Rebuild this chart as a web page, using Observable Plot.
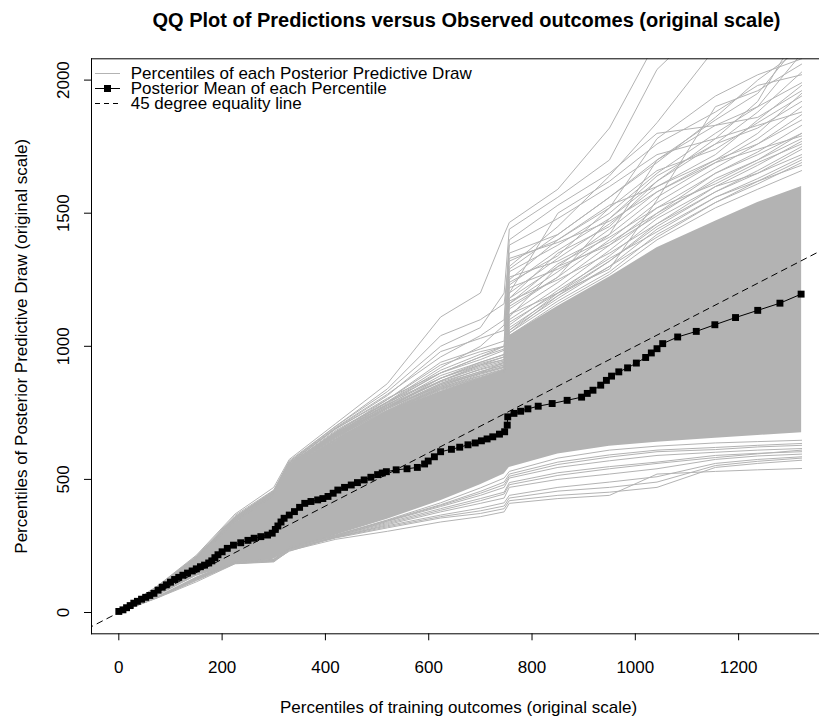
<!DOCTYPE html>
<html><head><meta charset="utf-8">
<script src="https://cdn.jsdelivr.net/npm/d3@7"></script>
<script src="https://cdn.jsdelivr.net/npm/@observablehq/plot@0.6"></script>
<style>
body{margin:0;background:#fff;font-family:"Liberation Sans",Arial,Helvetica,sans-serif;}
#wrap{position:relative;width:819px;height:721px;overflow:hidden;background:#fff;}
#legend{position:absolute;left:95px;top:65.5px;font-size:17px;line-height:15px;color:#000;}
.row{display:flex;align-items:center;height:15px;white-space:nowrap;}
.row svg{width:25px;height:15px;margin-right:10.7px;flex:none;overflow:visible}
</style></head><body>
<div id="wrap"><div id="legend"></div></div>
<script>
// ---- text ----
const titleText = "QQ Plot of Predictions versus Observed outcomes (original scale)";
const xLabelText = "Percentiles of training outcomes (original scale)";
const yLabelText = "Percentiles of Posterior Predictive Draw (original scale)";
const legendLabels = ["Percentiles of each Posterior Predictive Draw", "Posterior Mean of each Percentile", "45 degree equality line"];
const xTicks = [0, 200, 400, 600, 800, 1000, 1200];
const yTicks = [0, 500, 1000, 1500, 2000];

// ---- posterior mean of each percentile (black squares) ----
const meanX = [0, 8, 15, 22, 29, 36, 44, 52, 60, 68, 76, 84, 92, 100, 108, 116, 124, 133, 142, 150,
  158, 166, 174, 180, 186, 192, 200, 210, 222, 236, 250, 262, 275, 288, 297, 303, 308, 314, 320, 330,
  340, 350, 360, 372, 385, 395, 405, 415, 424, 437, 450, 462, 475, 488, 501, 510, 518, 537, 558, 578,
  592, 599, 611, 623, 644, 660, 676, 690, 702, 713, 724, 737, 747, 752, 753, 765, 778, 792, 812, 839,
  868, 896, 907, 918, 933, 944, 954, 968, 985, 1002, 1020, 1031, 1042, 1053, 1082, 1118, 1154, 1194, 1237, 1280, 1321];
const meanY = [4, 10, 18, 26, 35, 42, 50, 57, 64, 72, 84, 95, 104, 114, 124, 132, 140, 148, 156, 164,
  172, 178, 186, 194, 206, 217, 228, 241, 253, 262, 271, 279, 285, 291, 298, 312, 325, 340, 354, 366,
  379, 395, 410, 417, 423, 428, 436, 448, 460, 470, 479, 488, 498, 508, 518, 524, 529, 536, 540, 545,
  558, 569, 585, 604, 613, 621, 630, 637, 645, 652, 660, 670, 679, 704, 735, 748, 756, 765, 775, 785,
  797, 809, 823, 835, 854, 872, 888, 904, 919, 937, 958, 975, 991, 1010, 1035, 1056, 1081, 1108, 1135, 1162, 1196];

// ---- posterior predictive draws (grey), values at shared percentile knots ----
const knotsX = [0, 75, 150, 225, 300, 330, 420, 520, 623, 700, 746, 756, 850, 950, 1042, 1155, 1237, 1322];
// solid dense core of the draws
const coreLower = [0, 60, 135, 180, 200, 235, 290, 350, 420, 480, 520, 545, 595, 625, 640, 655, 665, 675];
const coreUpper = [4, 95, 205, 335, 440, 530, 640, 750, 830, 880, 910, 1040, 1150, 1260, 1370, 1470, 1540, 1600];
// individual draws visible above the core
const upperDraws = [
  [5, 100, 215, 370, 470, 575, 710, 860, 1110, 1200, 1420, 1465, 1590, 1820, 2150, 2300, 2400, 2500],
  [5, 99, 212, 365, 460, 570, 700, 830, 1000, 1070, 1200, 1440, 1560, 1700, 2040, 2250, 2350, 2450],
  [5, 98, 208, 360, 455, 560, 690, 800, 930, 980, 1000, 1300, 1450, 1640, 1840, 2120, 2250, 2350],
  [5, 98, 205, 352, 450, 555, 680, 790, 900, 950, 985, 1250, 1400, 1520, 1780, 1940, 2020, 2080],
  [5, 97, 206, 355, 448, 560, 675, 780, 890, 940, 970, 1350, 1420, 1560, 1700, 1850, 1950, 2150],
  [5, 97, 204, 350, 446, 552, 670, 770, 880, 935, 960, 1280, 1380, 1500, 1650, 1800, 1900, 2100],
  [5, 96, 203, 348, 445, 550, 668, 775, 870, 925, 950, 1230, 1360, 1480, 1620, 1760, 1880, 2030],
  [5, 96, 202, 346, 444, 548, 665, 765, 860, 915, 940, 1200, 1330, 1460, 1600, 1720, 1850, 1980],
  [5, 96, 201, 345, 443, 545, 662, 760, 855, 905, 930, 1180, 1300, 1440, 1580, 1700, 1800, 1950],
  [5, 96, 201, 344, 442, 543, 660, 758, 850, 900, 925, 1160, 1280, 1420, 1560, 1690, 1780, 1900],
  [5, 95, 200, 343, 441, 540, 656, 755, 845, 895, 920, 1140, 1260, 1400, 1540, 1670, 1760, 1870],
  [5, 95, 200, 342, 440, 538, 652, 753, 842, 888, 912, 1120, 1240, 1380, 1520, 1650, 1730, 1830],
  [5, 95, 200, 341, 440, 536, 650, 752, 838, 882, 906, 1100, 1220, 1360, 1500, 1620, 1700, 1800],
  [5, 95, 200, 340, 440, 535, 648, 751, 835, 878, 902, 1090, 1200, 1340, 1480, 1600, 1680, 1770],
  [5, 95, 200, 340, 440, 534, 646, 750, 830, 875, 900, 1070, 1190, 1320, 1460, 1580, 1650, 1740],
  [5, 95, 200, 340, 440, 533, 644, 750, 828, 872, 900, 1060, 1180, 1300, 1440, 1560, 1630, 1710],
  [5, 95, 200, 340, 440, 532, 642, 750, 825, 870, 900, 1050, 1170, 1280, 1420, 1540, 1610, 1690],
  [5, 95, 200, 340, 440, 531, 641, 750, 822, 870, 900, 1040, 1160, 1270, 1400, 1520, 1590, 1660],
  [5, 96, 203, 350, 450, 548, 660, 770, 850, 900, 940, 1120, 1200, 1290, 1550, 1900, 1960, 2060],
  [5, 97, 207, 356, 452, 556, 684, 792, 920, 1000, 1080, 1380, 1480, 1600, 1720, 1780, 1830, 1880],
  [5, 96, 205, 352, 448, 552, 672, 785, 900, 960, 990, 1200, 1500, 1620, 1760, 1880, 1980, 2020],
  [5, 97, 208, 358, 455, 565, 695, 820, 960, 1040, 1100, 1400, 1530, 1650, 1800, 1830, 1860, 1960],
  [5, 96, 204, 348, 446, 545, 665, 770, 870, 930, 960, 1150, 1260, 1480, 1640, 1760, 1820, 1920],
  [5, 96, 202, 346, 444, 550, 676, 800, 940, 990, 1020, 1320, 1400, 1530, 1600, 1700, 1760, 1850],
  [5, 97, 206, 354, 452, 560, 690, 805, 900, 960, 1000, 1180, 1350, 1450, 1620, 1780, 1920, 2200],
  [5, 96, 204, 350, 448, 552, 672, 790, 880, 930, 950, 1260, 1320, 1420, 1700, 1830, 1900, 1990],
  [5, 96, 203, 348, 446, 546, 668, 780, 870, 920, 945, 1220, 1290, 1390, 1500, 1650, 1720, 1800],
  [5, 95, 202, 345, 444, 544, 660, 770, 860, 905, 930, 1170, 1250, 1350, 1460, 1600, 1650, 1720],
  [5, 97, 208, 360, 458, 566, 700, 840, 1040, 1100, 1160, 1330, 1390, 1470, 1580, 1690, 1740, 1790],
  [5, 96, 205, 352, 450, 554, 678, 790, 910, 970, 1000, 1160, 1310, 1410, 1520, 1610, 1690, 1760],
  [5, 96, 203, 347, 445, 548, 664, 776, 866, 912, 935, 1110, 1300, 1380, 1490, 1630, 1700, 1780],
  [5, 95, 202, 344, 443, 542, 656, 765, 856, 898, 922, 1080, 1210, 1330, 1430, 1560, 1620, 1680],
  [5, 97, 207, 357, 454, 562, 692, 815, 980, 1030, 1060, 1290, 1420, 1560, 1690, 1860, 2000, 2120],
  [5, 96, 204, 350, 447, 550, 670, 782, 880, 940, 968, 1240, 1340, 1520, 1660, 1740, 1840, 1940],
  [5, 95, 201, 343, 441, 539, 652, 758, 846, 890, 915, 1060, 1200, 1320, 1450, 1580, 1660, 1750],
  [5, 95, 200, 342, 441, 537, 650, 756, 840, 884, 910, 1050, 1190, 1300, 1410, 1540, 1620, 1700]
];
// individual draws visible below the core
const lowerDraws = [
  [0, 55, 115, 183, 190, 232, 275, 305, 340, 360, 378, 410, 428, 440, 520, 530, 536, 541],
  [0, 56, 120, 184, 192, 236, 280, 318, 355, 372, 390, 420, 440, 452, 470, 545, 560, 572],
  [0, 57, 124, 185, 194, 230, 284, 326, 366, 392, 412, 440, 470, 490, 510, 560, 575, 585],
  [0, 58, 128, 186, 196, 240, 282, 330, 378, 410, 430, 470, 500, 520, 540, 575, 588, 595],
  [0, 58, 126, 187, 198, 244, 288, 338, 390, 428, 452, 488, 525, 548, 565, 590, 598, 604],
  [0, 59, 130, 188, 196, 238, 286, 342, 398, 440, 470, 505, 545, 570, 590, 602, 610, 616],
  [0, 59, 132, 189, 199, 246, 292, 346, 405, 455, 490, 520, 565, 592, 610, 620, 628, 635],
  [0, 60, 133, 190, 200, 242, 290, 348, 412, 468, 505, 530, 580, 610, 625, 637, 642, 647],
  [0, 58, 127, 186, 197, 238, 285, 334, 384, 420, 445, 480, 515, 540, 560, 582, 596, 610],
  [0, 59, 131, 189, 199, 244, 290, 344, 402, 448, 480, 512, 556, 584, 604, 612, 622, 628],
  [0, 57, 122, 185, 193, 234, 282, 322, 360, 382, 400, 430, 456, 470, 490, 552, 568, 580]
];
const equalityRange = [-80, 2080];

// ---- tables built from the arrays ----
const meanRows = meanX.map((x, i) => ({x, y: meanY[i]}));
const coreRows = knotsX.map((x, i) => ({x, lo: coreLower[i], hi: coreUpper[i]}));
const drawRows = [...upperDraws, ...lowerDraws].flatMap((ys, k) => knotsX.map((x, i) => ({draw: k, x, y: ys[i]})));

const grey = "#b3b3b3";
const fmt = d3.format("d");
const chart = Plot.plot({
  width: 819, height: 721,
  marginLeft: 91, marginRight: 0, marginTop: 58.3, marginBottom: 87.7,
  x: {domain: [-52.9, 1356.6]},
  y: {domain: [-80, 2080]},
  style: {fontFamily: "'Liberation Sans', Arial, Helvetica, sans-serif", fontSize: "17px", background: "white", color: "black", overflow: "visible"},
  marks: [
    Plot.areaY(coreRows, {x: "x", y1: "lo", y2: "hi", fill: grey, clip: true}),
    Plot.line(drawRows, {x: "x", y: "y", z: "draw", stroke: grey, strokeWidth: 1, clip: true}),
    Plot.line(equalityRange, {x: d => d, y: d => d, stroke: "#000", strokeWidth: 1, strokeDasharray: "6,5", clip: true}),
    Plot.line(meanRows, {x: "x", y: "y", stroke: "#000", strokeWidth: 1}),
    Plot.dot(meanRows, {x: "x", y: "y", symbol: "square", r: 3.9, fill: "#000", stroke: null}),
    Plot.frame({anchor: "top", stroke: "#000"}),
    Plot.frame({anchor: "left", stroke: "#000"}),
    Plot.frame({anchor: "bottom", stroke: "#000"}),
    Plot.axisX({anchor: "bottom", ticks: xTicks, tickFormat: fmt, tickSize: 7, tickPadding: 20, fontSize: 17, label: null, stroke: "#000"}),
    Plot.axisY({anchor: "left", ticks: yTicks, tickFormat: fmt, tickSize: 7, tickPadding: 16, tickRotate: -90, fontSize: 17, label: null, stroke: "#000"}),
    Plot.text([titleText], {text: d => d, frameAnchor: "top", textAnchor: "middle", dx: 11, dy: -46, fontSize: 20, fontWeight: "bold", fill: "#000"}),
    Plot.text([xLabelText], {text: d => d, frameAnchor: "bottom", textAnchor: "middle", dx: 3, dy: 79, fontSize: 17, fill: "#000"}),
    Plot.text([yLabelText], {text: d => d, frameAnchor: "left", textAnchor: "middle", dx: -69.6, rotate: -90, fontSize: 17, fill: "#000"})
  ]
});
const wrap = document.getElementById("wrap");
wrap.insertBefore(chart, wrap.firstChild);

// ---- legend (top-left inside the plot box, no border) ----
const legend = d3.select("#legend");
const swatches = [
  s => s.append("line").attr("x1", 0).attr("x2", 25).attr("y1", 7.5).attr("y2", 7.5).attr("stroke", grey),
  s => { s.append("line").attr("x1", 0).attr("x2", 25).attr("y1", 7.5).attr("y2", 7.5).attr("stroke", "#000");
         s.append("rect").attr("x", 9).attr("y", 4).attr("width", 7).attr("height", 7).attr("fill", "#000"); },
  s => s.append("line").attr("x1", 0).attr("x2", 25).attr("y1", 7.5).attr("y2", 7.5).attr("stroke", "#000").attr("stroke-dasharray", "5,4")
];
legendLabels.forEach((lab, i) => {
  const row = legend.append("div").attr("class", "row");
  swatches[i](row.append("svg"));
  row.append("span").text(lab);
});
</script>
</body></html>
